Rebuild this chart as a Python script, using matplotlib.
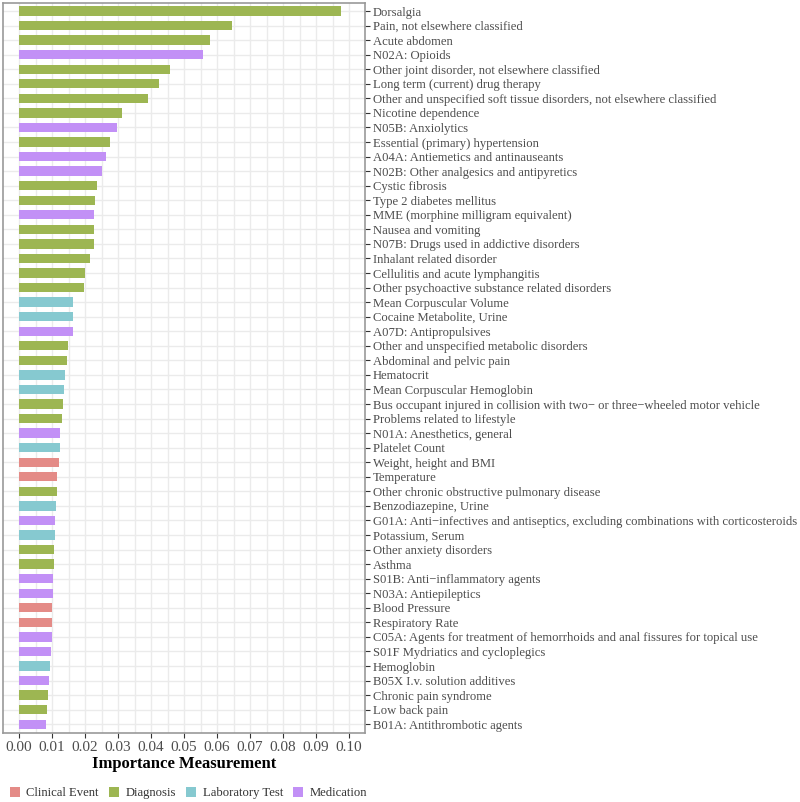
import matplotlib.pyplot as plt
from matplotlib.patches import Patch

plt.rcParams['font.family'] = ['Liberation Serif', 'DejaVu Serif']

features = [
    "Dorsalgia", "Pain, not elsewhere classified", "Acute abdomen", "N02A: Opioids",
    "Other joint disorder, not elsewhere classified", "Long term (current) drug therapy",
    "Other and unspecified soft tissue disorders, not elsewhere classified",
    "Nicotine dependence", "N05B: Anxiolytics", "Essential (primary) hypertension",
    "A04A: Antiemetics and antinauseants", "N02B: Other analgesics and antipyretics",
    "Cystic fibrosis", "Type 2 diabetes mellitus", "MME (morphine milligram equivalent)",
    "Nausea and vomiting", "N07B: Drugs used in addictive disorders",
    "Inhalant related disorder", "Cellulitis and acute lymphangitis",
    "Other psychoactive substance related disorders", "Mean Corpuscular Volume",
    "Cocaine Metabolite, Urine", "A07D: Antipropulsives",
    "Other and unspecified metabolic disorders", "Abdominal and pelvic pain",
    "Hematocrit", "Mean Corpuscular Hemoglobin",
    "Bus occupant injured in collision with two\u2212 or three\u2212wheeled motor vehicle",
    "Problems related to lifestyle", "N01A: Anesthetics, general", "Platelet Count",
    "Weight, height and BMI", "Temperature", "Other chronic obstructive pulmonary disease",
    "Benzodiazepine, Urine",
    "G01A: Anti\u2212infectives and antiseptics, excluding combinations with corticosteroids",
    "Potassium, Serum", "Other anxiety disorders", "Asthma",
    "S01B: Anti\u2212inflammatory agents", "N03A: Antiepileptics", "Blood Pressure",
    "Respiratory Rate",
    "C05A: Agents for treatment of hemorrhoids and anal fissures for topical use",
    "S01F Mydriatics and cycloplegics", "Hemoglobin", "B05X I.v. solution additives",
    "Chronic pain syndrome", "Low back pain", "B01A: Antithrombotic agents",
]

importance = [
    0.0976, 0.0645, 0.0578, 0.0556, 0.0458, 0.0423, 0.0392, 0.0313, 0.0298, 0.0275,
    0.0265, 0.0252, 0.0235, 0.0231, 0.0227, 0.0227, 0.0226, 0.0215, 0.0201, 0.0197,
    0.0165, 0.0164, 0.0163, 0.0148, 0.0146, 0.0140, 0.0136, 0.0134, 0.0131, 0.0125,
    0.0123, 0.0121, 0.0116, 0.0115, 0.0112, 0.0109, 0.0108, 0.0107, 0.0107, 0.0103,
    0.0103, 0.0101, 0.0099, 0.0099, 0.0097, 0.0093, 0.0091, 0.0089, 0.0085, 0.0083,
]

category = [
    "Diagnosis", "Diagnosis", "Diagnosis", "Medication", "Diagnosis", "Diagnosis",
    "Diagnosis", "Diagnosis", "Medication", "Diagnosis", "Medication", "Medication",
    "Diagnosis", "Diagnosis", "Medication", "Diagnosis", "Diagnosis", "Diagnosis",
    "Diagnosis", "Diagnosis", "Laboratory Test", "Laboratory Test", "Medication",
    "Diagnosis", "Diagnosis", "Laboratory Test", "Laboratory Test", "Diagnosis",
    "Diagnosis", "Medication", "Laboratory Test", "Clinical Event", "Clinical Event",
    "Diagnosis", "Laboratory Test", "Medication", "Laboratory Test", "Diagnosis",
    "Diagnosis", "Medication", "Medication", "Clinical Event", "Clinical Event",
    "Medication", "Medication", "Laboratory Test", "Medication", "Diagnosis",
    "Diagnosis", "Medication",
]

groups = ["Clinical Event", "Diagnosis", "Laboratory Test", "Medication"]
colors = {"Clinical Event": "#E48B87", "Diagnosis": "#9DB652",
          "Laboratory Test": "#86C9D0", "Medication": "#C290F6"}

fig = plt.figure(figsize=(8, 8.02), dpi=100)
ax = fig.add_axes([3/800, 1 - 733/802, 362/800, 730/802])

ypos = list(range(len(features)))
ax.barh(ypos, importance, height=0.64,
        color=[colors[c] for c in category], zorder=3)

ax.set_xlim(-0.00485, 0.1048)
ax.set_ylim(len(features) - 0.4, -0.55)
ax.set_xticks([i / 100 for i in range(11)])
ax.set_xticks([i / 200 for i in range(1, 21, 2)], minor=True)
ax.set_xticklabels([f"{i / 100:.2f}" for i in range(11)])
ax.set_yticks(ypos)
ax.set_yticklabels(features, fontsize=9.05)
ax.yaxis.tick_right()
ax.grid(True, which='both', axis='x', color='#ebebeb', lw=1, zorder=0)
ax.grid(True, which='major', axis='y', color='#ebebeb', lw=1, zorder=0)
ax.tick_params(axis='both', which='major', colors='#333333',
               labelcolor='#4d4d4d', length=3.5, width=0.8, pad=2)
ax.tick_params(axis='x', which='major', labelsize=11)
ax.tick_params(axis='x', which='minor', length=0)
for s in ax.spines.values():
    s.set_color('#999999')
    s.set_linewidth(1.2)

ax.set_xlabel("Importance Measurement", fontsize=12, fontweight='bold', labelpad=2)

handles = [Patch(facecolor=colors[g], label=g) for g in groups]
fig.legend(handles=handles, loc='center left', bbox_to_anchor=(10/800, 1 - 793/802),
           ncol=4, frameon=False, fontsize=9.1, handlelength=0.8, handleheight=0.8,
           handletextpad=0.5, columnspacing=0.8, borderpad=0, borderaxespad=0,
           labelcolor='#333333')

fig.savefig("out.png", dpi=100)
